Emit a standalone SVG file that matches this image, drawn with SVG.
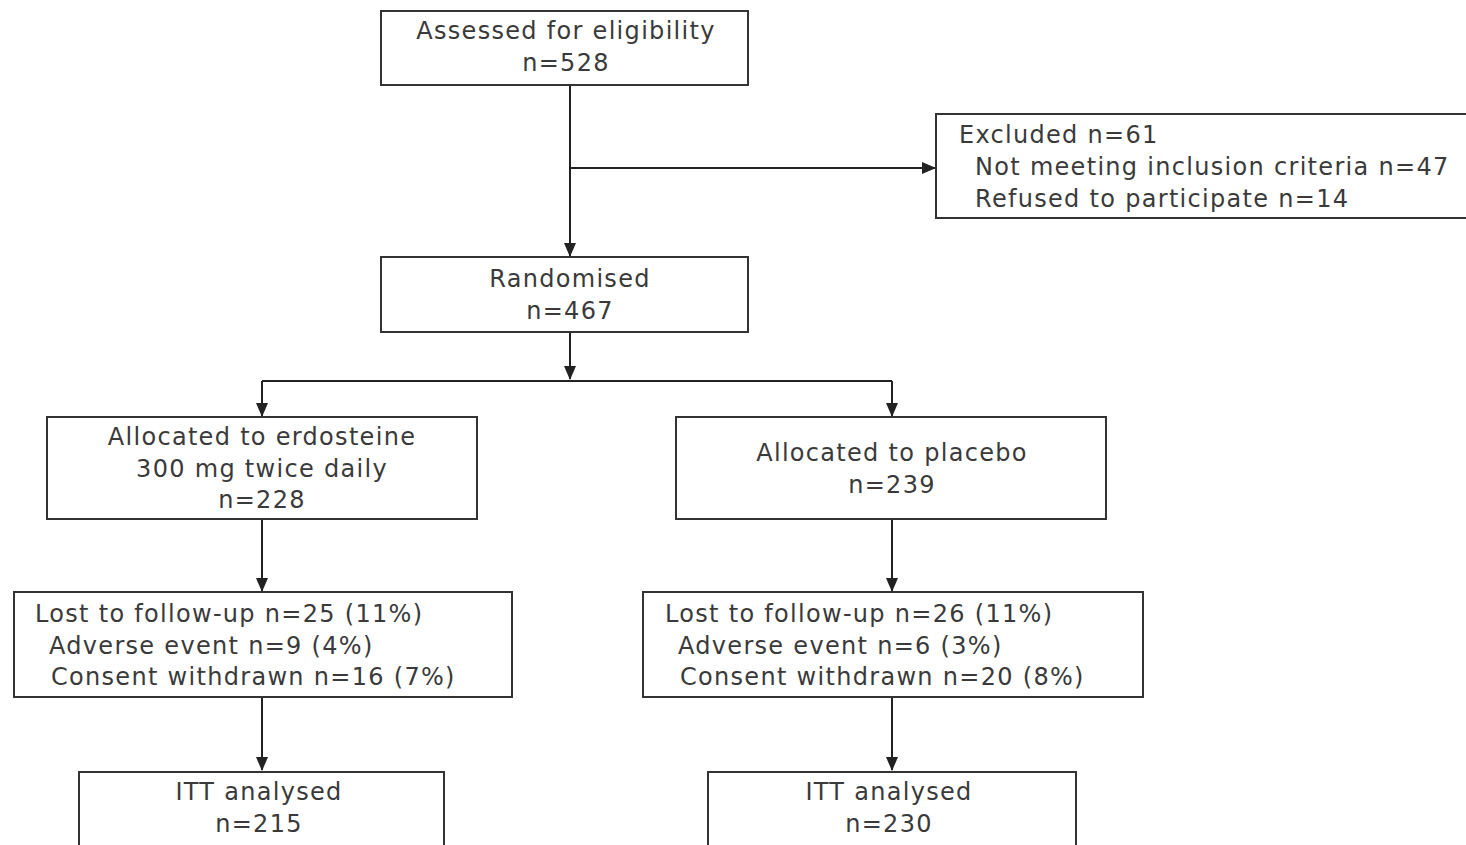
<svg xmlns="http://www.w3.org/2000/svg" width="1466" height="845" viewBox="0 0 1466 845">
<defs>
<marker id="ah" markerWidth="14" markerHeight="12" refX="13" refY="6" orient="auto" markerUnits="userSpaceOnUse">
<path d="M0,0 L14,6 L0,12 Z" fill="#222"/>
</marker>
<style>
.box{fill:#fff;stroke:#333;stroke-width:2}
.t{font-family:"DejaVu Sans","Liberation Sans",sans-serif;font-size:24px;letter-spacing:1.3px;fill:#3a3a3a}
.c{text-anchor:middle}
.ln{stroke:#222;stroke-width:2;fill:none}
</style>
</defs>
<rect width="1466" height="845" fill="#fff"/>
<g id="connectors">
<path class="ln" d="M570,85 V256" marker-end="url(#ah)"/>
<path class="ln" d="M570,168 H935" marker-end="url(#ah)"/>
<path class="ln" d="M570,332 V379" marker-end="url(#ah)"/>
<path class="ln" d="M262,381 H892"/>
<path class="ln" d="M262,381 V416" marker-end="url(#ah)"/>
<path class="ln" d="M892,381 V416" marker-end="url(#ah)"/>
<path class="ln" d="M262,519 V591" marker-end="url(#ah)"/>
<path class="ln" d="M892,519 V591" marker-end="url(#ah)"/>
<path class="ln" d="M262,697 V770" marker-end="url(#ah)"/>
<path class="ln" d="M892,697 V770" marker-end="url(#ah)"/>
</g>
<g id="assessed">
<rect class="box" x="381" y="11" width="367" height="74"/>
<text class="t c" x="566" y="39">Assessed for eligibility</text>
<text class="t c" x="566" y="71">n=528</text>
</g>
<g id="excluded">
<rect class="box" x="936" y="114" width="540" height="104"/>
<text class="t" x="959" y="143">Excluded n=61</text>
<text class="t" x="975" y="175">Not meeting inclusion criteria n=47</text>
<text class="t" x="975" y="207">Refused to participate n=14</text>
</g>
<g id="randomised">
<rect class="box" x="381" y="257" width="367" height="75"/>
<text class="t c" x="570" y="287">Randomised</text>
<text class="t c" x="570" y="319">n=467</text>
</g>
<g id="erdosteine">
<rect class="box" x="47" y="417" width="430" height="102"/>
<text class="t c" x="262" y="445">Allocated to erdosteine</text>
<text class="t c" x="262" y="477">300 mg twice daily</text>
<text class="t c" x="262" y="508">n=228</text>
</g>
<g id="placebo">
<rect class="box" x="676" y="417" width="430" height="102"/>
<text class="t c" x="892" y="461">Allocated to placebo</text>
<text class="t c" x="892" y="493">n=239</text>
</g>
<g id="lost-erdosteine">
<rect class="box" x="14" y="592" width="498" height="105"/>
<text class="t" x="35" y="622">Lost to follow-up n=25 (11%)</text>
<text class="t" x="49" y="654">Adverse event n=9 (4%)</text>
<text class="t" x="51" y="685">Consent withdrawn n=16 (7%)</text>
</g>
<g id="lost-placebo">
<rect class="box" x="643" y="592" width="500" height="105"/>
<text class="t" x="665" y="622">Lost to follow-up n=26 (11%)</text>
<text class="t" x="678" y="654">Adverse event n=6 (3%)</text>
<text class="t" x="680" y="685">Consent withdrawn n=20 (8%)</text>
</g>
<g id="itt-erdosteine">
<rect class="box" x="79" y="772" width="365" height="90"/>
<text class="t c" x="259" y="800">ITT analysed</text>
<text class="t c" x="259" y="832">n=215</text>
</g>
<g id="itt-placebo">
<rect class="box" x="708" y="772" width="368" height="90"/>
<text class="t c" x="889" y="800">ITT analysed</text>
<text class="t c" x="889" y="832">n=230</text>
</g>
</svg>
